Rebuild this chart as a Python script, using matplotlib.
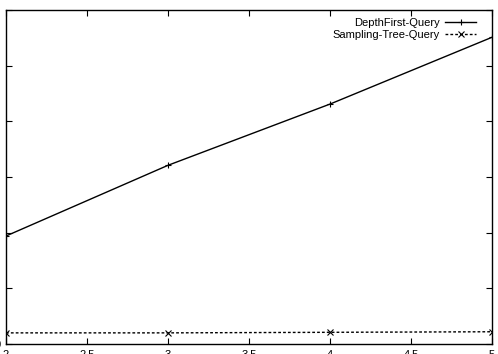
import matplotlib
matplotlib.use("Agg")
import matplotlib.pyplot as plt

plt.rcParams['font.family'] = ['Liberation Sans', 'DejaVu Sans']

x = [2, 3, 4, 5]
depth_first = [19.4, 32.1, 43.1, 55.1]
sampling_tree = [2.0, 2.0, 2.1, 2.2]
xticks = [2, 2.5, 3, 3.5, 4, 4.5, 5]
yticks = [0, 10, 20, 30, 40, 50, 60]

fig = plt.figure(figsize=(4.98, 3.54), dpi=100)
ax = fig.add_axes([6 / 498, 1 - 344 / 354, 486 / 498, 334 / 354])

ax.plot(x, depth_first, color='black', lw=1.0, marker='+', ms=4, mew=0.8,
        label='DepthFirst-Query')
ax.plot(x, sampling_tree, color='black', lw=1.0, ls=(0, (2, 1.5)), marker='x',
        ms=4, mew=0.8, label='Sampling-Tree-Query')

ax.set_xlim(2, 5)
ax.set_ylim(0, 60)
ax.set_xticks(xticks)
ax.set_xticklabels(['2', '2.5', '3', '3.5', '4', '4.5', '5'])
ax.set_yticks(yticks)
ax.tick_params(direction='in', top=True, right=True, length=4, width=0.8,
               labelsize=8, pad=4)
for s in ax.spines.values():
    s.set_linewidth(1.0)

ax.legend(loc='upper right', bbox_to_anchor=(0.977, 0.99), borderaxespad=0,
          frameon=False, fontsize=8, markerfirst=False,
          handlelength=2.8, handletextpad=0.5, labelspacing=0.2)

fig.savefig('out.png', dpi=100)
